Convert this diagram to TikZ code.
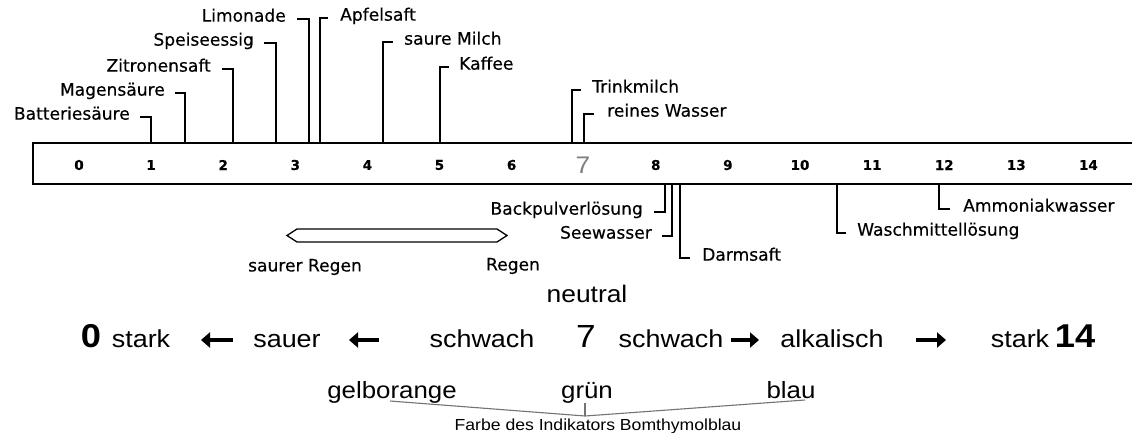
\documentclass[tikz,border=0pt]{standalone}
\usepackage{fontspec}
\setmainfont{Liberation Sans}[FakeStretch=1.1]
\newfontfamily\lblfont{DejaVu Sans}[FakeBold=0.35]
\usetikzlibrary{arrows.meta}
\tikzset{
  lbl/.style={font=\lblfont\fontsize{17.1}{20}\selectfont, inner sep=0pt},
  brk/.style={line width=1.4pt},
  barline/.style={line width=1.8pt},
  num/.style={font=\lblfont\bfseries\fontsize{13.5}{16}\selectfont, inner sep=0pt},
  row/.style={font=\fontsize{24.5}{28}\selectfont, inner sep=0pt, anchor=base},
  bignum/.style={font=\bfseries\fontsize{33}{36}\selectfont, inner sep=0pt, anchor=base},
  arr/.style={line width=3.6pt, -{Triangle[length=9pt,width=15pt]}},
  ind/.style={line width=1.1pt, draw=black!55},
}
\begin{document}
\begin{tikzpicture}[x=1pt,y=-1pt]
\useasboundingbox (0,0) rectangle (1132,432);

% bar
\draw[barline] (1132,143) -- (33,143) -- (33,184) -- (1132,184);
\foreach \n in {0,1,2,3,4,5,6,8,9,10,11,12,13,14}
  \node[num] (n\n) at ({79+72.1*\n},165) {\n};
\node[inner sep=0pt, font=\fontsize{24}{28}\selectfont, text=black!50] (n7) at (583,165) {7};

% coordinates on bar
\coordinate (tbat) at (151,143);
\coordinate (tmag) at (185,143);
\coordinate (tzit) at (233,143);
\coordinate (tspe) at (276,143);
\coordinate (tlim) at (309,143);
\coordinate (tapf) at (320,143);
\coordinate (tsau) at (383,143);
\coordinate (tkaf) at (440,143);
\coordinate (ttri) at (572,143);
\coordinate (trei) at (584,143);
\coordinate (bbac) at (665,184);
\coordinate (bsee) at (672,184);
\coordinate (bdar) at (680,184);
\coordinate (bwas) at (837,184);
\coordinate (bamm) at (939,184);

% top labels, left of line
\node[lbl, anchor=mid east] (bat) at (130,117) {Batteriesäure};
\node[lbl, anchor=mid east] (mag) at (165,93) {Magensäure};
\node[lbl, anchor=mid east] (zit) at (211,69) {Zitronensaft};
\node[lbl, anchor=mid east] (spe) at (254,43) {Speiseessig};
\node[lbl, anchor=mid east] (lim) at (286,19) {Limonade};
\draw[brk] ([xshift=10pt]bat.mid east) -| (tbat);
\draw[brk] ([xshift=10pt]mag.mid east) -| (tmag);
\draw[brk] ([xshift=11pt]zit.mid east) -| (tzit);
\draw[brk] ([xshift=10pt]spe.mid east) -| (tspe);
\draw[brk] ([xshift=11pt]lim.mid east) -| (tlim);

% top labels, right of line
\node[lbl, anchor=mid west] (apf) at (340,18) {Apfelsaft};
\node[lbl, anchor=mid west] (sau) at (404,42) {saure Milch};
\node[lbl, anchor=mid west] (kaf) at (459,67) {Kaffee};
\node[lbl, anchor=mid west] (tri) at (592,90) {Trinkmilch};
\node[lbl, anchor=mid west] (rei) at (607,114) {reines Wasser};
\draw[brk] ([xshift=-12pt]apf.mid west) -| (tapf);
\draw[brk] ([xshift=-11pt]sau.mid west) -| (tsau);
\draw[brk] ([xshift=-10pt]kaf.mid west) -| (tkaf);
\draw[brk] ([xshift=-11pt]tri.mid west) -| (ttri);
\draw[brk] ([xshift=-13pt]rei.mid west) -| (trei);

% bottom labels
\node[lbl, anchor=mid east] (bac) at (643,212) {Backpulverlösung};
\node[lbl, anchor=mid east] (see) at (652,236) {Seewasser};
\node[lbl, anchor=mid west] (dar) at (702,258) {Darmsaft};
\node[lbl, anchor=mid west] (was) at (857,233) {Waschmittellösung};
\node[lbl, anchor=mid west] (amm) at (963,209) {Ammoniakwasser};
\draw[brk] ([xshift=11pt]bac.mid east) -| (bbac);
\draw[brk] ([xshift=10pt]see.mid east) -| (bsee);
\draw[brk] ([xshift=-12pt]dar.mid west) -| (bdar);
\draw[brk] ([xshift=-11pt]was.mid west) -| (bwas);
\draw[brk] ([xshift=-13pt]amm.mid west) -| (bamm);

% rain hexagon
\draw[line width=1.3pt] (287,235.5) -- (297,229) -- (497,229) -- (507,235.5) -- (497,242) -- (297,242) -- cycle;
\node[lbl] (sr) at (305,267) {saurer Regen};
\node[lbl] (rg) at (513,266) {Regen};

% neutral row
\node[inner sep=0pt, font=\fontsize{24}{28}\selectfont] (neu) at (587,294) {neutral};
\node[bignum] (z0) at (91,347) {0};
\node[row] (st1) at (141,347) {stark};
\node[row] (sa) at (287,347) {sauer};
\node[row] (sw1) at (482,347) {schwach};
\node[inner sep=0pt, anchor=base, font=\fontsize{32}{34}\selectfont] (s7) at (586,347) {7};
\node[row] (sw2) at (671,347) {schwach};
\node[row] (al) at (832,347) {alkalisch};
\node[row] (st2) at (1020,347) {stark};
\node[bignum] (z14) at (1075,347) {14};
\coordinate (a1s) at (233,340); \coordinate (a1e) at (201,340);
\coordinate (a2s) at (379,340); \coordinate (a2e) at (349,340);
\coordinate (a3s) at (731,340); \coordinate (a3e) at (759,340);
\coordinate (a4s) at (916,340); \coordinate (a4e) at (946,340);
\draw[arr] (a1s) -- (a1e);
\draw[arr] (a2s) -- (a2e);
\draw[arr] (a3s) -- (a3e);
\draw[arr] (a4s) -- (a4e);

% indicator
\node[row, font=\fontsize{23.5}{26}\selectfont] (ge) at (392,398) {gelborange};
\node[row, font=\fontsize{23.5}{26}\selectfont] (gr) at (587,398) {grün};
\node[row, font=\fontsize{23.5}{26}\selectfont] (bl) at (791,398) {blau};
\coordinate (v) at (585,416);
\coordinate (gl) at (390,401);
\coordinate (bll) at (805,400);
\draw[ind] (gl) -- (v) -- (bll);
\draw[ind] (v) -- (gr.south -| v);
\node[inner sep=0pt, anchor=base, font=\fontsize{16}{18}\selectfont] (fa) at (598,430) {Farbe des Indikators Bomthymolblau};
\end{tikzpicture}
\end{document}
